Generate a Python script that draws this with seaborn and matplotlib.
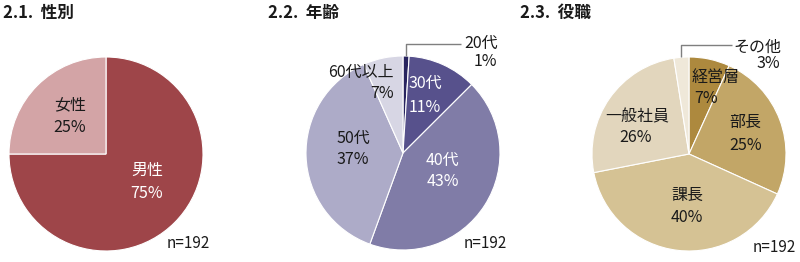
import matplotlib
matplotlib.use("Agg")
import matplotlib.pyplot as plt
import numpy as np
import seaborn as sns

sns.set_theme(style="white")
plt.rcParams['font.family'] = ['Noto Sans CJK JP', 'DejaVu Sans']

# ---------------- data ----------------
titles = ["2.1.  性別", "2.2.  年齢", "2.3.  役職"]
n_label = "n=192"

gender_cats = ["男性", "女性"]
gender_vals = [75, 25]
gender_pct = ["75%", "25%"]

age_cats = ["20代", "30代", "40代", "50代", "60代以上"]
age_vals = [1.0, 11.4, 42.6, 37.4, 6.6]
age_pct = ["1%", "11%", "43%", "37%", "7%"]

role_cats = ["経営層", "部長", "課長", "一般社員", "その他"]
role_vals = [6.8, 25.0, 40.2, 25.6, 2.5]
role_pct = ["7%", "25%", "40%", "26%", "3%"]

# ---------------- styles ----------------
gender_colors = ["#9E4549", "#D3A4A6"]
age_colors = ["#28245F", "#57518C", "#807CA7", "#ADABC8", "#D7D6E4"]
role_colors = ["#AD893E", "#C2A667", "#D5C294", "#E2D6BD", "#EFE8D9"]

W, H = 800, 262
R = 97
LS = 11.5
fig = plt.figure(figsize=(8, 2.62), dpi=100)


def make_ax(cx, cy):
    ax = fig.add_axes([(cx - R) / W, (H - cy - R) / H, 2 * R / W, 2 * R / H])
    return ax


def txt(px, py, s, ha="center", color="#1a1a1a", size=LS, weight="normal"):
    fig.text(px / W, 1 - py / H, s, ha=ha, va="center", color=color,
             fontsize=size, fontweight=weight)


def draw_pie(ax, vals, colors):
    ax.pie(vals, colors=colors, startangle=90, counterclock=False, radius=1,
           wedgeprops=dict(edgecolor="white", linewidth=0.8))
    ax.set_xlim(-1, 1)
    ax.set_ylim(-1, 1)
    ax.axis("off")


def leader(ax, vals, idx, top_y, end_x):
    tot = sum(vals)
    start = sum(vals[:idx]) / tot
    mid = (start + vals[idx] / tot / 2) * 2 * np.pi
    x0, y0 = np.sin(mid), np.cos(mid)
    ax.plot([x0, x0, end_x], [y0, top_y, top_y], color="#7F7F7F", lw=1,
            clip_on=False, solid_capstyle="butt")


# ---- pie 1 ----
ax1 = make_ax(106, 154)
draw_pie(ax1, gender_vals, gender_colors)
txt(147, 170, gender_cats[0], color="white")
txt(147, 193, gender_pct[0], color="white")
txt(70, 105, gender_cats[1])
txt(70, 128, gender_pct[1])
txt(188, 243, n_label, size=11)

# ---- pie 2 ----
ax2 = make_ax(403, 153)
draw_pie(ax2, age_vals, age_colors)
leader(ax2, age_vals, 0, (153 - 44) / R, (461 - 403) / R)
txt(498, 43, age_cats[0], ha="right")
txt(497, 61, age_pct[0], ha="right")
txt(425, 83, age_cats[1], color="white")
txt(425, 107, age_pct[1], color="white")
txt(442, 160, age_cats[2], color="white")
txt(443, 182, age_pct[2], color="white")
txt(353, 138, age_cats[3])
txt(353, 160, age_pct[3])
txt(394, 72, age_cats[4], ha="right")
txt(394, 93, age_pct[4], ha="right")
txt(485, 243, n_label, size=11)

# ---- pie 3 ----
ax3 = make_ax(689, 154)
draw_pie(ax3, role_vals, role_colors)
leader(ax3, role_vals, 4, (154 - 45) / R, (732 - 689) / R)
txt(692, 78, role_cats[0], ha="left")
txt(694, 98, role_pct[0], ha="left")
txt(745, 122, role_cats[1])
txt(746, 145, role_pct[1])
txt(687, 195, role_cats[2])
txt(687, 217, role_pct[2])
txt(637, 117, role_cats[3])
txt(636, 137, role_pct[3])
txt(781, 47, role_cats[4], ha="right")
txt(780, 64, role_pct[4], ha="right")
txt(774, 247, n_label, size=11)

# ---- titles ----
for x, t in zip([3, 268, 520], titles):
    txt(x, 13, t, ha="left", size=12, weight="bold")

fig.savefig("out.png", dpi=100)
